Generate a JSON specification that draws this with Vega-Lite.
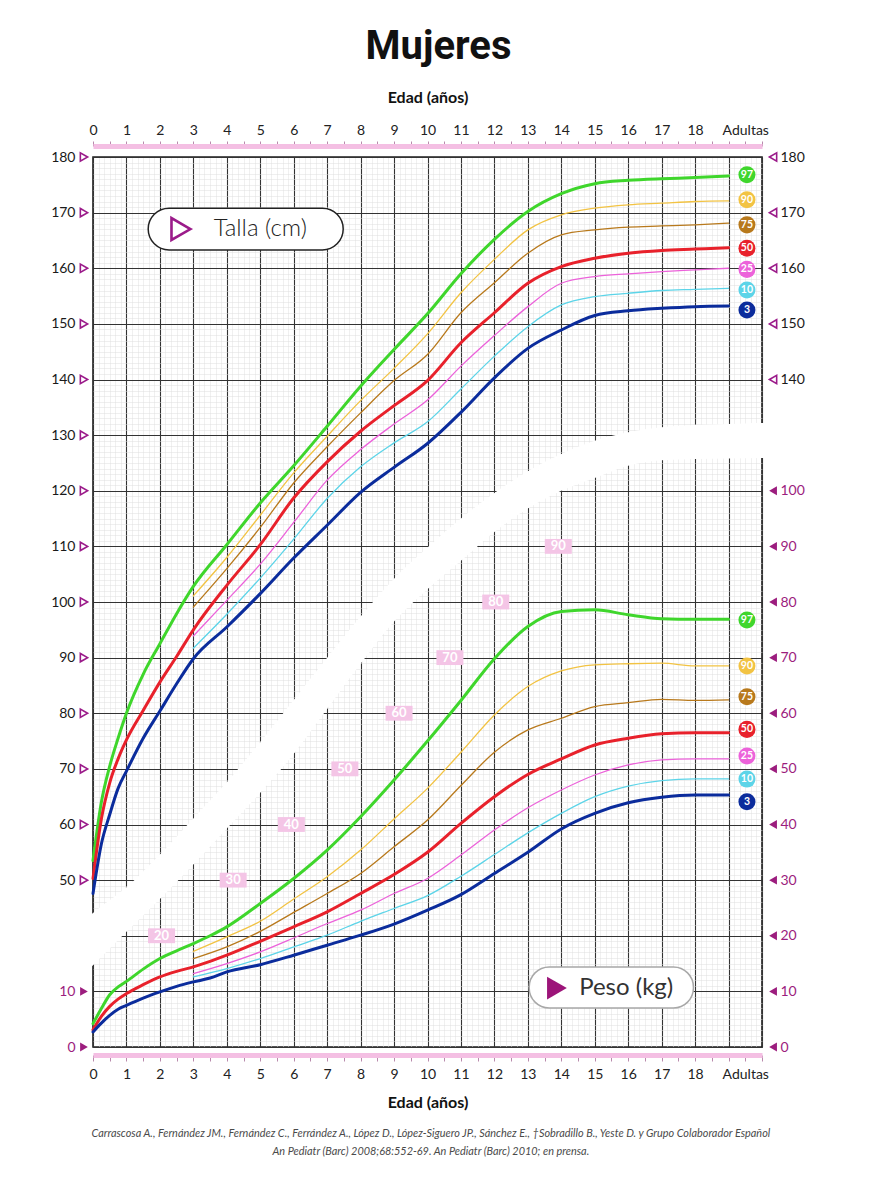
{
"$schema": "https://vega.github.io/schema/vega-lite/v6.json",
"width": 669, "height": 890,
"autosize": "none",
"padding": {"left": 93, "top": 157, "right": 117, "bottom": 153},
"background": "white",
"title": {"text": "Mujeres", "font": "Roboto", "fontSize": 40, "fontWeight": "bold", "anchor": "middle", "dx": 11, "offset": 22, "color": "#111111"},
"config": {"view": {"stroke": "#1e1e1e", "strokeWidth": 1.6}, "axis": {"labelFont": "Lato", "titleFont": "Lato"}},
"resolve": {"scale": {"y": "independent"}, "axis": {"x": "independent", "y": "independent"}},
"data": {"values": [{}]},
"datasets": {
"band": [
{"a":-0.2,"lo":33.5,"hi":43.1},{"a":0,"lo":34.7,"hi":44.1},{"a":1,"lo":40.7,"hi":48.7},{"a":2,"lo":46.6,"hi":54.6},{"a":3,"lo":52.8,"hi":61.1},{"a":4,"lo":59.3,"hi":67.6},{"a":5,"lo":65.7,"hi":74.8},{"a":6,"lo":72.7,"hi":82.4},{"a":7,"lo":80.8,"hi":90.0},{"a":8,"lo":88.9,"hi":97.4},{"a":9,"lo":96.5,"hi":104.2},{"a":10,"lo":102.3,"hi":109.8},{"a":11,"lo":107.4,"hi":115.0},{"a":12,"lo":112.6,"hi":119.6},{"a":13,"lo":116.8,"hi":123.5},{"a":14,"lo":120.0,"hi":126.6},{"a":15,"lo":122.3,"hi":129.0},{"a":16,"lo":124.5,"hi":130.5},{"a":17,"lo":125.5,"hi":131.4},{"a":18,"lo":125.7,"hi":131.8},{"a":19,"lo":125.8,"hi":132.0},{"a":20,"lo":125.9,"hi":132.2},{"a":20.2,"lo":125.9,"hi":132.2}
],
"talla": [
{"p":"P97","a":0,"v":53.5},{"p":"P97","a":0.25,"v":64},{"p":"P97","a":0.5,"v":70.5},{"p":"P97","a":0.75,"v":75.5},{"p":"P97","a":1,"v":80},{"p":"P97","a":1.5,"v":87},{"p":"P97","a":2,"v":92.5},{"p":"P97","a":2.5,"v":97.9},{"p":"P97","a":3,"v":102.8},{"p":"P97","a":4,"v":110.3},{"p":"P97","a":5,"v":117.8},{"p":"P97","a":6,"v":124.5},{"p":"P97","a":7,"v":131.6},{"p":"P97","a":8,"v":138.8},{"p":"P97","a":9,"v":145.4},{"p":"P97","a":10,"v":151.8},{"p":"P97","a":11,"v":159},{"p":"P97","a":12,"v":165.2},{"p":"P97","a":13,"v":170.2},{"p":"P97","a":14,"v":173.4},{"p":"P97","a":15,"v":175.2},{"p":"P97","a":16,"v":175.8},{"p":"P97","a":17,"v":176.1},{"p":"P97","a":18,"v":176.3},{"p":"P97","a":19,"v":176.6},
{"p":"P90","a":3,"v":101.1},{"p":"P90","a":4,"v":108},{"p":"P90","a":5,"v":115.6},{"p":"P90","a":6,"v":123.2},{"p":"P90","a":7,"v":129.8},{"p":"P90","a":8,"v":136.2},{"p":"P90","a":9,"v":142},{"p":"P90","a":10,"v":148.2},{"p":"P90","a":11,"v":155.6},{"p":"P90","a":12,"v":161.6},{"p":"P90","a":13,"v":166.9},{"p":"P90","a":14,"v":169.6},{"p":"P90","a":15,"v":170.8},{"p":"P90","a":16,"v":171.4},{"p":"P90","a":17,"v":171.7},{"p":"P90","a":18,"v":172},{"p":"P90","a":19,"v":172.1},
{"p":"P75","a":3,"v":99.1},{"p":"P75","a":4,"v":106},{"p":"P75","a":5,"v":113.4},{"p":"P75","a":6,"v":121.4},{"p":"P75","a":7,"v":127.9},{"p":"P75","a":8,"v":134},{"p":"P75","a":9,"v":139.8},{"p":"P75","a":10,"v":144.5},{"p":"P75","a":11,"v":152},{"p":"P75","a":12,"v":157.4},{"p":"P75","a":13,"v":162.7},{"p":"P75","a":14,"v":166},{"p":"P75","a":15,"v":166.9},{"p":"P75","a":16,"v":167.4},{"p":"P75","a":17,"v":167.6},{"p":"P75","a":18,"v":167.8},{"p":"P75","a":19,"v":168.1},
{"p":"P50","a":0,"v":50.3},{"p":"P50","a":0.25,"v":61},{"p":"P50","a":0.5,"v":67.5},{"p":"P50","a":0.75,"v":71.8},{"p":"P50","a":1,"v":75.2},{"p":"P50","a":1.5,"v":80.5},{"p":"P50","a":2,"v":85.6},{"p":"P50","a":2.5,"v":90.2},{"p":"P50","a":3,"v":95},{"p":"P50","a":4,"v":103},{"p":"P50","a":5,"v":110.3},{"p":"P50","a":6,"v":118.7},{"p":"P50","a":7,"v":125.2},{"p":"P50","a":8,"v":130.7},{"p":"P50","a":9,"v":135.3},{"p":"P50","a":10,"v":139.8},{"p":"P50","a":11,"v":146.6},{"p":"P50","a":12,"v":152},{"p":"P50","a":13,"v":157.3},{"p":"P50","a":14,"v":160.3},{"p":"P50","a":15,"v":161.8},{"p":"P50","a":16,"v":162.7},{"p":"P50","a":17,"v":163.2},{"p":"P50","a":18,"v":163.45},{"p":"P50","a":19,"v":163.7},
{"p":"P25","a":3,"v":93.9},{"p":"P25","a":4,"v":100.3},{"p":"P25","a":5,"v":106.8},{"p":"P25","a":6,"v":114.3},{"p":"P25","a":7,"v":121.9},{"p":"P25","a":8,"v":127.4},{"p":"P25","a":9,"v":132},{"p":"P25","a":10,"v":136.3},{"p":"P25","a":11,"v":142.4},{"p":"P25","a":12,"v":147.9},{"p":"P25","a":13,"v":153.1},{"p":"P25","a":14,"v":157.3},{"p":"P25","a":15,"v":158.5},{"p":"P25","a":16,"v":159},{"p":"P25","a":17,"v":159.4},{"p":"P25","a":18,"v":159.7},{"p":"P25","a":19,"v":160},
{"p":"P10","a":3,"v":91.7},{"p":"P10","a":4,"v":97.8},{"p":"P10","a":5,"v":104.3},{"p":"P10","a":6,"v":111.3},{"p":"P10","a":7,"v":118.6},{"p":"P10","a":8,"v":124.3},{"p":"P10","a":9,"v":128.6},{"p":"P10","a":10,"v":132.4},{"p":"P10","a":11,"v":138.3},{"p":"P10","a":12,"v":144.2},{"p":"P10","a":13,"v":149.5},{"p":"P10","a":14,"v":153.4},{"p":"P10","a":15,"v":154.9},{"p":"P10","a":16,"v":155.5},{"p":"P10","a":17,"v":156},{"p":"P10","a":18,"v":156.2},{"p":"P10","a":19,"v":156.4},
{"p":"P3","a":0,"v":47.6},{"p":"P3","a":0.25,"v":56.5},{"p":"P3","a":0.5,"v":61.8},{"p":"P3","a":0.75,"v":66.5},{"p":"P3","a":1,"v":69.6},{"p":"P3","a":1.5,"v":75.5},{"p":"P3","a":2,"v":80.4},{"p":"P3","a":2.5,"v":85.3},{"p":"P3","a":3,"v":89.8},{"p":"P3","a":4,"v":95.5},{"p":"P3","a":5,"v":101.5},{"p":"P3","a":6,"v":107.9},{"p":"P3","a":7,"v":113.8},{"p":"P3","a":8,"v":119.7},{"p":"P3","a":9,"v":124.2},{"p":"P3","a":10,"v":128.5},{"p":"P3","a":11,"v":134.1},{"p":"P3","a":12,"v":140.3},{"p":"P3","a":13,"v":145.6},{"p":"P3","a":14,"v":148.9},{"p":"P3","a":15,"v":151.5},{"p":"P3","a":16,"v":152.35},{"p":"P3","a":17,"v":152.8},{"p":"P3","a":18,"v":153.1},{"p":"P3","a":19,"v":153.2}
],
"peso": [
{"p":"P97","a":0,"v":4.2},{"p":"P97","a":0.25,"v":6.9},{"p":"P97","a":0.5,"v":9.4},{"p":"P97","a":0.75,"v":10.8},{"p":"P97","a":1,"v":11.8},{"p":"P97","a":1.5,"v":14},{"p":"P97","a":2,"v":15.9},{"p":"P97","a":2.5,"v":17.3},{"p":"P97","a":3,"v":18.6},{"p":"P97","a":3.5,"v":20},{"p":"P97","a":4,"v":21.6},{"p":"P97","a":5,"v":25.8},{"p":"P97","a":6,"v":30.3},{"p":"P97","a":7,"v":35.4},{"p":"P97","a":8,"v":41.4},{"p":"P97","a":9,"v":48},{"p":"P97","a":10,"v":55},{"p":"P97","a":11,"v":62.3},{"p":"P97","a":12,"v":69.8},{"p":"P97","a":13,"v":75.6},{"p":"P97","a":14,"v":78.3},{"p":"P97","a":15,"v":78.6},{"p":"P97","a":16,"v":77.7},{"p":"P97","a":17,"v":77},{"p":"P97","a":18,"v":76.9},{"p":"P97","a":19,"v":76.9},
{"p":"P90","a":3,"v":17.2},{"p":"P90","a":4,"v":19.8},{"p":"P90","a":5,"v":22.6},{"p":"P90","a":6,"v":26.6},{"p":"P90","a":7,"v":30.6},{"p":"P90","a":8,"v":35.4},{"p":"P90","a":9,"v":41},{"p":"P90","a":10,"v":46.5},{"p":"P90","a":11,"v":53},{"p":"P90","a":12,"v":59.7},{"p":"P90","a":13,"v":64.8},{"p":"P90","a":14,"v":67.6},{"p":"P90","a":15,"v":68.7},{"p":"P90","a":16,"v":68.9},{"p":"P90","a":17,"v":69},{"p":"P90","a":18,"v":68.5},{"p":"P90","a":19,"v":68.5},
{"p":"P75","a":3,"v":15.9},{"p":"P75","a":4,"v":18},{"p":"P75","a":5,"v":20.8},{"p":"P75","a":6,"v":24.2},{"p":"P75","a":7,"v":27.6},{"p":"P75","a":8,"v":31.2},{"p":"P75","a":9,"v":36},{"p":"P75","a":10,"v":40.8},{"p":"P75","a":11,"v":47},{"p":"P75","a":12,"v":53},{"p":"P75","a":13,"v":57},{"p":"P75","a":14,"v":59.1},{"p":"P75","a":15,"v":61.2},{"p":"P75","a":16,"v":61.9},{"p":"P75","a":17,"v":62.5},{"p":"P75","a":18,"v":62.3},{"p":"P75","a":19,"v":62.4},
{"p":"P50","a":0,"v":3.1},{"p":"P50","a":0.25,"v":5.5},{"p":"P50","a":0.5,"v":7.3},{"p":"P50","a":0.75,"v":8.6},{"p":"P50","a":1,"v":9.6},{"p":"P50","a":1.5,"v":11.2},{"p":"P50","a":2,"v":12.6},{"p":"P50","a":2.5,"v":13.6},{"p":"P50","a":3,"v":14.4},{"p":"P50","a":3.5,"v":15.4},{"p":"P50","a":4,"v":16.5},{"p":"P50","a":5,"v":19},{"p":"P50","a":6,"v":21.6},{"p":"P50","a":7,"v":24.3},{"p":"P50","a":8,"v":27.6},{"p":"P50","a":9,"v":31},{"p":"P50","a":10,"v":35},{"p":"P50","a":11,"v":40.2},{"p":"P50","a":12,"v":45},{"p":"P50","a":13,"v":49},{"p":"P50","a":14,"v":51.8},{"p":"P50","a":15,"v":54.3},{"p":"P50","a":16,"v":55.5},{"p":"P50","a":17,"v":56.3},{"p":"P50","a":18,"v":56.5},{"p":"P50","a":19,"v":56.5},
{"p":"P25","a":3,"v":13.2},{"p":"P25","a":4,"v":15},{"p":"P25","a":5,"v":17.1},{"p":"P25","a":6,"v":19.6},{"p":"P25","a":7,"v":22.2},{"p":"P25","a":8,"v":24.6},{"p":"P25","a":9,"v":27.6},{"p":"P25","a":10,"v":30.3},{"p":"P25","a":11,"v":34.5},{"p":"P25","a":12,"v":39},{"p":"P25","a":13,"v":43},{"p":"P25","a":14,"v":46.2},{"p":"P25","a":15,"v":48.9},{"p":"P25","a":16,"v":50.7},{"p":"P25","a":17,"v":51.6},{"p":"P25","a":18,"v":51.8},{"p":"P25","a":19,"v":51.8},
{"p":"P10","a":3,"v":12.6},{"p":"P10","a":4,"v":14.1},{"p":"P10","a":5,"v":15.9},{"p":"P10","a":6,"v":18},{"p":"P10","a":7,"v":20.1},{"p":"P10","a":8,"v":22.6},{"p":"P10","a":9,"v":24.9},{"p":"P10","a":10,"v":27.2},{"p":"P10","a":11,"v":30.7},{"p":"P10","a":12,"v":34.6},{"p":"P10","a":13,"v":38.5},{"p":"P10","a":14,"v":42},{"p":"P10","a":15,"v":45},{"p":"P10","a":16,"v":46.9},{"p":"P10","a":17,"v":47.9},{"p":"P10","a":18,"v":48.2},{"p":"P10","a":19,"v":48.2},
{"p":"P3","a":0,"v":2.7},{"p":"P3","a":0.25,"v":4.3},{"p":"P3","a":0.5,"v":5.7},{"p":"P3","a":0.75,"v":6.8},{"p":"P3","a":1,"v":7.5},{"p":"P3","a":1.5,"v":8.8},{"p":"P3","a":2,"v":9.9},{"p":"P3","a":2.5,"v":10.9},{"p":"P3","a":3,"v":11.7},{"p":"P3","a":3.5,"v":12.4},{"p":"P3","a":4,"v":13.5},{"p":"P3","a":5,"v":14.8},{"p":"P3","a":6,"v":16.5},{"p":"P3","a":7,"v":18.3},{"p":"P3","a":8,"v":20.1},{"p":"P3","a":9,"v":22.1},{"p":"P3","a":10,"v":24.6},{"p":"P3","a":11,"v":27.4},{"p":"P3","a":12,"v":31.2},{"p":"P3","a":13,"v":35},{"p":"P3","a":14,"v":39.2},{"p":"P3","a":15,"v":42},{"p":"P3","a":16,"v":43.9},{"p":"P3","a":17,"v":44.9},{"p":"P3","a":18,"v":45.3},{"p":"P3","a":19,"v":45.3}
],
"tallaTags": [{"p":"P97","t":"97","v":176.8},{"p":"P90","t":"90","v":172.3},{"p":"P75","t":"75","v":167.8},{"p":"P50","t":"50","v":163.6},{"p":"P25","t":"25","v":159.8},{"p":"P10","t":"10","v":156.1},{"p":"P3","t":"3","v":152.5}],
"pesoTags": [{"p":"P97","t":"97","v":76.75},{"p":"P90","t":"90","v":68.5},{"p":"P75","t":"75","v":62.96},{"p":"P50","t":"50","v":57.1},{"p":"P25","t":"25","v":52.3},{"p":"P10","t":"10","v":48.16},{"p":"P3","t":"3","v":44.08}],
"bandTags": [{"w":20,"a":2.05},{"w":30,"a":4.19},{"w":40,"a":5.93},{"w":50,"a":7.53},{"w":60,"a":9.15},{"w":70,"a":10.67},{"w":80,"a":12.04},{"w":90,"a":13.91}]
},
"layer": [
{
"data": {"name": "band"},
"mark": {"type": "area", "color": "white", "interpolate": "monotone", "opacity": 1},
"encoding": {
"x": {"field": "a", "type": "quantitative", "scale": {"domain": [0, 20], "nice": false, "zero": false},
 "axis": {"orient": "bottom", "zindex": 0, "grid": true, "labels": false, "ticks": false, "domain": false, "title": null,
 "values": [0,0.1667,0.3333,0.5,0.6667,0.8333,1,1.1667,1.3333,1.5,1.6667,1.8333,2,2.1667,2.3333,2.5,2.6667,2.8333,3,3.1667,3.3333,3.5,3.6667,3.8333,4,4.1667,4.3333,4.5,4.6667,4.8333,5,5.1667,5.3333,5.5,5.6667,5.8333,6,6.1667,6.3333,6.5,6.6667,6.8333,7,7.1667,7.3333,7.5,7.6667,7.8333,8,8.1667,8.3333,8.5,8.6667,8.8333,9,9.1667,9.3333,9.5,9.6667,9.8333,10,10.1667,10.3333,10.5,10.6667,10.8333,11,11.1667,11.3333,11.5,11.6667,11.8333,12,12.1667,12.3333,12.5,12.6667,12.8333,13,13.1667,13.3333,13.5,13.6667,13.8333,14,14.1667,14.3333,14.5,14.6667,14.8333,15,15.1667,15.3333,15.5,15.6667,15.8333,16,16.1667,16.3333,16.5,16.6667,16.8333,17,17.1667,17.3333,17.5,17.6667,17.8333,18,18.1667,18.3333,18.5,18.6667,18.8333,19,19.1667,19.3333,19.5,19.6667,19.8333,20],
 "gridColor": {"condition": {"test": "abs(datum.value - round(datum.value)) < 0.01", "value": "#333333"}, "value": "#e0e0e0"},
 "gridWidth": {"condition": {"test": "abs(datum.value - round(datum.value)) < 0.01", "value": 1.1}, "value": 0.5}}},
"y": {"field": "lo", "type": "quantitative", "scale": {"domain": [20, 180], "nice": false, "zero": false},
 "axis": {"orient": "left", "zindex": 0, "grid": true, "labels": false, "ticks": false, "domain": false, "title": null,
 "values": [20,21,22,23,24,25,26,27,28,29,30,31,32,33,34,35,36,37,38,39,40,41,42,43,44,45,46,47,48,49,50,51,52,53,54,55,56,57,58,59,60,61,62,63,64,65,66,67,68,69,70,71,72,73,74,75,76,77,78,79,80,81,82,83,84,85,86,87,88,89,90,91,92,93,94,95,96,97,98,99,100,101,102,103,104,105,106,107,108,109,110,111,112,113,114,115,116,117,118,119,120,121,122,123,124,125,126,127,128,129,130,131,132,133,134,135,136,137,138,139,140,141,142,143,144,145,146,147,148,149,150,151,152,153,154,155,156,157,158,159,160,161,162,163,164,165,166,167,168,169,170,171,172,173,174,175,176,177,178,179,180],
 "gridColor": {"condition": {"test": "datum.value % 10 == 0", "value": "#333333"}, "value": "#dedede"},
 "gridWidth": {"condition": {"test": "datum.value % 10 == 0", "value": 1.1}, "value": 0.5}}},
"y2": {"field": "hi"}
}
},
{
"data": {"name": "bandTags"},
"mark": {"type": "point", "shape": "M-1,-0.55H1V0.55H-1Z", "filled": true, "fill": "#f4c5e6", "opacity": 1, "size": 729, "strokeWidth": 0},
"encoding": {
"x": {"field": "a", "type": "quantitative", "scale": {"domain": [0, 20], "nice": false, "zero": false}, "axis": null},
"y": {"field": "w", "type": "quantitative", "scale": {"domain": [0, 160], "nice": false, "zero": false}, "axis": null}
}
},
{
"data": {"name": "bandTags"},
"mark": {"type": "text", "color": "white", "font": "Lato", "fontWeight": "bold", "fontSize": 13, "align": "center", "baseline": "middle"},
"encoding": {
"x": {"field": "a", "type": "quantitative", "scale": {"domain": [0, 20], "nice": false, "zero": false}, "axis": null},
"y": {"field": "w", "type": "quantitative", "scale": {"domain": [0, 160], "nice": false, "zero": false}, "axis": null},
"text": {"field": "w", "type": "quantitative"}
}
},
{
"data": {"name": "talla"},
"transform": [{"filter": {"field": "p", "oneOf": ["P10","P25","P75","P90"]}}],
"mark": {"type": "line", "interpolate": "monotone", "strokeWidth": 1.3, "strokeCap": "round"},
"encoding": {
"x": {"field": "a", "type": "quantitative", "scale": {"domain": [0, 20], "nice": false, "zero": false}, "axis": null},
"y": {"field": "v", "type": "quantitative", "scale": {"domain": [20, 180], "nice": false, "zero": false}, "axis": null},
"color": {"field": "p", "type": "nominal", "legend": null, "scale": {"domain": ["P3","P10","P25","P50","P75","P90","P97"], "range": ["#0b2c9c","#5cd4e8","#ec62da","#e8212b","#b8791c","#f2c343","#3fd62c"]}}
}
},
{
"data": {"name": "peso"},
"transform": [{"filter": {"field": "p", "oneOf": ["P10","P25","P75","P90"]}}],
"mark": {"type": "line", "interpolate": "monotone", "strokeWidth": 1.3, "strokeCap": "round"},
"encoding": {
"x": {"field": "a", "type": "quantitative", "scale": {"domain": [0, 20], "nice": false, "zero": false}, "axis": null},
"y": {"field": "v", "type": "quantitative", "scale": {"domain": [0, 160], "nice": false, "zero": false}, "axis": null},
"color": {"field": "p", "type": "nominal", "legend": null, "scale": {"domain": ["P3","P10","P25","P50","P75","P90","P97"], "range": ["#0b2c9c","#5cd4e8","#ec62da","#e8212b","#b8791c","#f2c343","#3fd62c"]}}
}
},
{
"data": {"name": "talla"},
"transform": [{"filter": {"field": "p", "oneOf": ["P3","P50","P97"]}}],
"mark": {"type": "line", "interpolate": "monotone", "strokeWidth": 3, "strokeCap": "round"},
"encoding": {
"x": {"field": "a", "type": "quantitative", "scale": {"domain": [0, 20], "nice": false, "zero": false},
 "axis": {"orient": "top", "offset": 11, "values": [0,0.5,1,1.5,2,2.5,3,3.5,4,4.5,5,5.5,6,6.5,7,7.5,8,8.5,9,9.5,10,10.5,11,11.5,12,12.5,13,13.5,14,14.5,15,15.5,16,16.5,17,17.5,18,18.5,19,19.5,20],
 "labelExpr": "datum.value == 19.5 ? 'Adultas' : ((datum.value % 1 == 0 && datum.value <= 18) ? '' + datum.value : '')",
 "labelFontSize": 14, "labelColor": "#222222", "labelPadding": 4, "labelOverlap": false, "labelFlush": false, "labelBound": false,
 "tickSize": 5, "tickColor": "#b98aac", "tickWidth": 1, "domainColor": "#f4bfe3", "domainWidth": 5, "grid": false,
 "title": "Edad (años)", "titleFontSize": 16, "titleFontWeight": "bold", "titlePadding": 18, "titleColor": "#111111"}},
"y": {"field": "v", "type": "quantitative", "scale": {"domain": [20, 180], "nice": false, "zero": false},
 "axis": {"orient": "left", "values": [20,30,50,60,70,80,90,100,110,120,130,140,150,160,170,180],
 "labelExpr": "datum.value < 50 ? '' + (datum.value - 20) : '' + datum.value",
 "labelColor": {"condition": {"test": "datum.value < 50", "value": "#9c1d7e"}, "value": "#1a1a1a"},
 "labelFontSize": 14, "labelPadding": 18, "ticks": false, "domain": false, "grid": false, "title": null, "labelOverlap": false}},
"color": {"field": "p", "type": "nominal", "legend": null, "scale": {"domain": ["P3","P10","P25","P50","P75","P90","P97"], "range": ["#0b2c9c","#5cd4e8","#ec62da","#e8212b","#b8791c","#f2c343","#3fd62c"]}}
}
},
{
"data": {"name": "peso"},
"transform": [{"filter": {"field": "p", "oneOf": ["P3","P50","P97"]}}],
"mark": {"type": "line", "interpolate": "monotone", "strokeWidth": 3, "strokeCap": "round"},
"encoding": {
"x": {"field": "a", "type": "quantitative", "scale": {"domain": [0, 20], "nice": false, "zero": false},
 "axis": {"orient": "bottom", "offset": 8, "values": [0,0.5,1,1.5,2,2.5,3,3.5,4,4.5,5,5.5,6,6.5,7,7.5,8,8.5,9,9.5,10,10.5,11,11.5,12,12.5,13,13.5,14,14.5,15,15.5,16,16.5,17,17.5,18,18.5,19,19.5,20],
 "labelExpr": "datum.value == 19.5 ? 'Adultas' : ((datum.value % 1 == 0 && datum.value <= 18) ? '' + datum.value : '')",
 "labelFontSize": 14, "labelColor": "#222222", "labelPadding": 6, "labelOverlap": false, "labelFlush": false, "labelBound": false,
 "tickSize": 6, "tickColor": "#b98aac", "tickWidth": 1, "domainColor": "#f4bfe3", "domainWidth": 5, "grid": false,
 "title": "Edad (años)", "titleFontSize": 16, "titleFontWeight": "bold", "titlePadding": 13, "titleColor": "#111111"}},
"y": {"field": "v", "type": "quantitative", "scale": {"domain": [0, 160], "nice": false, "zero": false},
 "axis": {"orient": "right", "values": [0,10,20,30,40,50,60,70,80,90,100,120,130,140,150,160],
 "labelExpr": "datum.value >= 120 ? '' + (datum.value + 20) : '' + datum.value",
 "labelColor": {"condition": {"test": "datum.value < 120", "value": "#9c1d7e"}, "value": "#1a1a1a"},
 "labelFontSize": 14, "labelPadding": 18, "ticks": false, "domain": false, "grid": false, "title": null, "labelOverlap": false}},
"color": {"field": "p", "type": "nominal", "legend": null, "scale": {"domain": ["P3","P10","P25","P50","P75","P90","P97"], "range": ["#0b2c9c","#5cd4e8","#ec62da","#e8212b","#b8791c","#f2c343","#3fd62c"]}}
}
},
{
"mark": {"type": "rect", "fill": "white", "stroke": "#222222", "strokeWidth": 1.5, "cornerRadius": 21},
"encoding": {
"x": {"datum": 1.65, "type": "quantitative", "scale": {"domain": [0, 20], "nice": false, "zero": false}, "axis": null},
"x2": {"datum": 7.48},
"y": {"datum": 170.8, "type": "quantitative", "scale": {"domain": [20, 180], "nice": false, "zero": false}, "axis": null},
"y2": {"datum": 163.3}
}
},
{
"mark": {"type": "point", "shape": "triangle-right", "filled": false, "stroke": "#9b1b8a", "strokeWidth": 2.6, "size": 480, "opacity": 1},
"encoding": {
"x": {"datum": 2.63, "type": "quantitative", "scale": {"domain": [0, 20], "nice": false, "zero": false}, "axis": null},
"y": {"datum": 167.05, "type": "quantitative", "scale": {"domain": [20, 180], "nice": false, "zero": false}, "axis": null}
}
},
{
"mark": {"type": "text", "text": "Talla (cm)", "font": "Lato", "fontWeight": 300, "fontSize": 24, "color": "#222222", "align": "center", "baseline": "middle"},
"encoding": {
"x": {"datum": 5.0, "type": "quantitative", "scale": {"domain": [0, 20], "nice": false, "zero": false}, "axis": null},
"y": {"datum": 167.05, "type": "quantitative", "scale": {"domain": [20, 180], "nice": false, "zero": false}, "axis": null}
}
},
{
"mark": {"type": "rect", "fill": "white", "stroke": "#a8a8a8", "strokeWidth": 1.5, "cornerRadius": 20},
"encoding": {
"x": {"datum": 13.04, "type": "quantitative", "scale": {"domain": [0, 20], "nice": false, "zero": false}, "axis": null},
"x2": {"datum": 17.95},
"y": {"datum": 14.38, "type": "quantitative", "scale": {"domain": [0, 160], "nice": false, "zero": false}, "axis": null},
"y2": {"datum": 7.01}
}
},
{
"mark": {"type": "point", "shape": "triangle-right", "filled": true, "fill": "#9c1479", "strokeWidth": 0, "size": 520, "opacity": 1},
"encoding": {
"x": {"datum": 13.87, "type": "quantitative", "scale": {"domain": [0, 20], "nice": false, "zero": false}, "axis": null},
"y": {"datum": 10.6, "type": "quantitative", "scale": {"domain": [0, 160], "nice": false, "zero": false}, "axis": null}
}
},
{
"mark": {"type": "text", "text": "Peso (kg)", "font": "Lato", "fontWeight": 400, "fontSize": 24, "color": "#333333", "align": "center", "baseline": "middle"},
"encoding": {
"x": {"datum": 15.94, "type": "quantitative", "scale": {"domain": [0, 20], "nice": false, "zero": false}, "axis": null},
"y": {"datum": 10.6, "type": "quantitative", "scale": {"domain": [0, 160], "nice": false, "zero": false}, "axis": null}
}
},
{
"data": {"name": "tallaTags"},
"mark": {"type": "circle", "size": 290, "opacity": 1},
"encoding": {
"x": {"datum": 19.55, "type": "quantitative", "scale": {"domain": [0, 20], "nice": false, "zero": false}, "axis": null},
"y": {"field": "v", "type": "quantitative", "scale": {"domain": [20, 180], "nice": false, "zero": false}, "axis": null},
"color": {"field": "p", "type": "nominal", "legend": null, "scale": {"domain": ["P3","P10","P25","P50","P75","P90","P97"], "range": ["#0b2c9c","#5cd4e8","#ec62da","#e8212b","#b8791c","#f2c343","#3fd62c"]}}
}
},
{
"data": {"name": "tallaTags"},
"mark": {"type": "text", "color": "white", "font": "Lato", "fontWeight": "bold", "fontSize": 10.5, "align": "center", "baseline": "middle"},
"encoding": {
"x": {"datum": 19.55, "type": "quantitative", "scale": {"domain": [0, 20], "nice": false, "zero": false}, "axis": null},
"y": {"field": "v", "type": "quantitative", "scale": {"domain": [20, 180], "nice": false, "zero": false}, "axis": null},
"text": {"field": "t", "type": "nominal"}
}
},
{
"data": {"name": "pesoTags"},
"mark": {"type": "circle", "size": 290, "opacity": 1},
"encoding": {
"x": {"datum": 19.55, "type": "quantitative", "scale": {"domain": [0, 20], "nice": false, "zero": false}, "axis": null},
"y": {"field": "v", "type": "quantitative", "scale": {"domain": [0, 160], "nice": false, "zero": false}, "axis": null},
"color": {"field": "p", "type": "nominal", "legend": null, "scale": {"domain": ["P3","P10","P25","P50","P75","P90","P97"], "range": ["#0b2c9c","#5cd4e8","#ec62da","#e8212b","#b8791c","#f2c343","#3fd62c"]}}
}
},
{
"data": {"name": "pesoTags"},
"mark": {"type": "text", "color": "white", "font": "Lato", "fontWeight": "bold", "fontSize": 10.5, "align": "center", "baseline": "middle"},
"encoding": {
"x": {"datum": 19.55, "type": "quantitative", "scale": {"domain": [0, 20], "nice": false, "zero": false}, "axis": null},
"y": {"field": "v", "type": "quantitative", "scale": {"domain": [0, 160], "nice": false, "zero": false}, "axis": null},
"text": {"field": "t", "type": "nominal"}
}
},
{
"data": {"values": [{"v":50},{"v":60},{"v":70},{"v":80},{"v":90},{"v":100},{"v":110},{"v":120},{"v":130},{"v":140},{"v":150},{"v":160},{"v":170},{"v":180}]},
"mark": {"type": "point", "shape": "triangle-right", "filled": false, "stroke": "#9b1b8a", "strokeWidth": 1.6, "size": 70, "opacity": 1},
"encoding": {
"x": {"datum": -0.27, "type": "quantitative", "scale": {"domain": [0, 20], "nice": false, "zero": false}, "axis": null},
"y": {"field": "v", "type": "quantitative", "scale": {"domain": [20, 180], "nice": false, "zero": false}, "axis": null}
}
},
{
"data": {"values": [{"v":0},{"v":10}]},
"mark": {"type": "point", "shape": "triangle-right", "filled": true, "fill": "#9c1d7e", "strokeWidth": 0, "size": 80, "opacity": 1},
"encoding": {
"x": {"datum": -0.27, "type": "quantitative", "scale": {"domain": [0, 20], "nice": false, "zero": false}, "axis": null},
"y": {"field": "v", "type": "quantitative", "scale": {"domain": [0, 160], "nice": false, "zero": false}, "axis": null}
}
},
{
"data": {"values": [{"v":140},{"v":150},{"v":160},{"v":170},{"v":180}]},
"mark": {"type": "point", "shape": "triangle-left", "filled": false, "stroke": "#9b1b8a", "strokeWidth": 1.6, "size": 70, "opacity": 1},
"encoding": {
"x": {"datum": 20.33, "type": "quantitative", "scale": {"domain": [0, 20], "nice": false, "zero": false}, "axis": null},
"y": {"field": "v", "type": "quantitative", "scale": {"domain": [20, 180], "nice": false, "zero": false}, "axis": null}
}
},
{
"data": {"values": [{"v":0},{"v":10},{"v":20},{"v":30},{"v":40},{"v":50},{"v":60},{"v":70},{"v":80},{"v":90},{"v":100}]},
"mark": {"type": "point", "shape": "triangle-left", "filled": true, "fill": "#9c1d7e", "strokeWidth": 0, "size": 80, "opacity": 1},
"encoding": {
"x": {"datum": 20.33, "type": "quantitative", "scale": {"domain": [0, 20], "nice": false, "zero": false}, "axis": null},
"y": {"field": "v", "type": "quantitative", "scale": {"domain": [0, 160], "nice": false, "zero": false}, "axis": null}
}
},
{
"mark": {"type": "text", "text": "Carrascosa A., Fernández JM., Fernández C., Ferrández A., López D., López-Siguero JP., Sánchez E., †Sobradillo B., Yeste D. y Grupo Colaborador Español", "font": "Lato", "fontStyle": "italic", "fontSize": 10.9, "color": "#4a4a4a", "align": "center", "baseline": "middle"},
"encoding": {
"x": {"datum": 10.1, "type": "quantitative", "scale": {"domain": [0, 20], "nice": false, "zero": false}, "axis": null},
"y": {"datum": -15.6, "type": "quantitative", "scale": {"domain": [0, 160], "nice": false, "zero": false}, "axis": null}
}
},
{
"mark": {"type": "text", "text": "An Pediatr (Barc) 2008;68:552-69.   An Pediatr (Barc) 2010; en prensa.", "font": "Lato", "fontStyle": "italic", "fontSize": 10.9, "color": "#4a4a4a", "align": "center", "baseline": "middle"},
"encoding": {
"x": {"datum": 10.1, "type": "quantitative", "scale": {"domain": [0, 20], "nice": false, "zero": false}, "axis": null},
"y": {"datum": -18.9, "type": "quantitative", "scale": {"domain": [0, 160], "nice": false, "zero": false}, "axis": null}
}
}
]
}
